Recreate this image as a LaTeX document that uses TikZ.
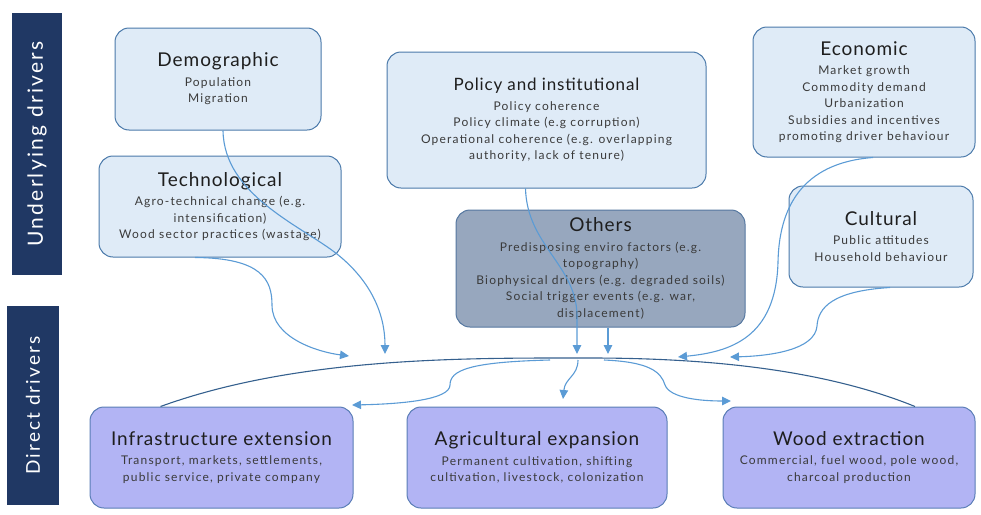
\documentclass[tikz,border=0pt]{standalone}
\usepackage{fontspec}
\setmainfont{Lato}
\newfontfamily\bodyface[LetterSpace=10]{Lato}
\newfontfamily\headface[LetterSpace=5]{Lato}
\newfontfamily\barface[LetterSpace=11]{Lato}
\usetikzlibrary{arrows.meta}

\definecolor{barnavy}{HTML}{203864}
\definecolor{upfill}{HTML}{DFEBF7}
\definecolor{upline}{HTML}{4A79AA}
\definecolor{othfill}{HTML}{97A7BE}
\definecolor{othline}{HTML}{5577A0}
\definecolor{dirfill}{HTML}{B2B4F4}
\definecolor{dirline}{HTML}{5A7DB6}
\definecolor{flow}{HTML}{5B9BD5}
\definecolor{arcline}{HTML}{35608E}
\definecolor{titletext}{HTML}{1E1E1E}
\definecolor{bodytext}{HTML}{3A3A3A}

% heading line of a driver box; optional argument is the type size
\newcommand\boxhead[2][19]{{\fontsize{#1}{22}\selectfont\headface\color{titletext}#2}\\[3pt]}

\tikzset{
  bar/.style={fill=barnavy, rotate=90, text=white, inner sep=0pt,
    font=\fontsize{21}{24}\selectfont\barface},
  drvbox/.style={rounded corners=14pt, line width=1pt, align=center, inner sep=0pt,
    font=\fontsize{12}{16.5}\selectfont\bodyface\color{bodytext}},
  under/.style={drvbox, draw=upline, fill=upfill},
  other/.style={drvbox, draw=othline, fill=othfill},
  direct/.style={drvbox, draw=dirline, fill=dirfill},
  flowline/.style={draw=flow, line width=1.1pt, -{Triangle[length=9pt,width=8.5pt]}},
  arcstyle/.style={draw=arcline, line width=1.1pt}
}

\begin{document}
\begin{tikzpicture}[x=1pt, y=-1pt]
\useasboundingbox (0,0) rectangle (981,514);

% side bars
\node[bar, minimum width=262, minimum height=50] (ubar) at (37,144) {Underlying drivers};
\node[bar, minimum width=199, minimum height=52, font=\fontsize{19}{22}\selectfont\barface]
  (dbar) at (33,405.5) {Direct drivers};

% underlying drivers
\node[under, minimum width=206, minimum height=102] (demo) at (218,79)
  {\boxhead{Demographic}Population\\Migration};
\node[under, minimum width=242, minimum height=101] (tech) at (220,206.5)
  {\boxhead{Technological}Agro-technical change (e.g.\\intensification)\\Wood sector practices (wastage)};
\node[under, minimum width=319, minimum height=136] (policy) at (546.5,120)
  {\boxhead[17]{Policy and institutional}Policy coherence\\Policy climate (e.g corruption)\\Operational coherence (e.g. overlapping\\authority, lack of tenure)};
\node[other, minimum width=289, minimum height=117] (others) at (600.5,268.5)
  {\boxhead{Others}Predisposing enviro factors (e.g.\\topography)\\Biophysical drivers (e.g. degraded soils)\\Social trigger events (e.g. war,\\displacement)};
\node[under, minimum width=222, minimum height=130] (econ) at (864,92)
  {\boxhead{Economic}Market growth\\Commodity demand\\Urbanization\\Subsidies and incentives\\promoting driver behaviour};
\node[under, minimum width=184, minimum height=101] (cult) at (881,236.5)
  {\boxhead{Cultural}Public attitudes\\Household behaviour};

% direct drivers
\node[direct, minimum width=263, minimum height=101] (infra) at (221.5,457.5)
  {\boxhead{Infrastructure extension}Transport, markets, settlements,\\public service, private company};
\node[direct, minimum width=260, minimum height=101] (agri) at (537,457.5)
  {\boxhead{Agricultural expansion}Permanent cultivation, shifting\\cultivation, livestock, colonization};
\node[direct, minimum width=252, minimum height=101] (wood) at (849,457.5)
  {\boxhead{Wood extraction}Commercial, fuel wood, pole wood,\\charcoal production};

% end points of the flows
\coordinate (demoEnd) at (385,354);
\coordinate (techEnd) at (349,356);
\coordinate (policyEnd) at (577,354);
\coordinate (othersEnd) at (608,354);
\coordinate (econEnd) at (678,357);
\coordinate (cultEnd) at (730,357);
\coordinate (hubL) at (550,360);
\coordinate (hubM) at (578,360);
\coordinate (hubR) at (604,360);
\coordinate (infraIn) at (352,405);
\coordinate (agriIn) at (563,399);
\coordinate (woodIn) at (731,401);

% arc joining the direct drivers
\draw[arcstyle] ([xshift=-61pt]infra.north) .. controls (300,356) and (470,358) .. (590,358)
  .. controls (720,358) and (830,372) .. ([xshift=66pt]wood.north);

% underlying drivers feeding in
\draw[flowline] ([xshift=5pt]demo.south) .. controls (224,195) and (300,225) .. (337,254)
  .. controls (372,282) and (385,315) .. (demoEnd);
\draw[flowline] ([xshift=-25pt]tech.south) .. controls (262,258) and (272,280) .. (272,305)
  .. controls (272,338) and (318,352) .. (techEnd);
\draw[flowline] ([xshift=-21pt]policy.south) .. controls (527,245) and (576,265) .. (577,315)
  -- (policyEnd);
\draw[flowline] ([xshift=7.5pt]others.south) -- (othersEnd);
\draw[flowline] ([xshift=9pt]econ.south) .. controls (800,163) and (779,210) .. (778,262)
  .. controls (776,338) and (730,352) .. (econEnd);
\draw[flowline] ([xshift=9pt]cult.south) .. controls (832,291) and (818,308) .. (817,326)
  .. controls (815,350) and (770,356) .. (cultEnd);

% flows out to the direct drivers
\draw[flowline] (hubL) .. controls (470,362) and (450,370) .. (450,385)
  .. controls (450,400) and (400,404) .. (infraIn);
\draw[flowline] (hubM) .. controls (578,376) and (565,378) .. (agriIn);
\draw[flowline] (hubR) .. controls (650,362) and (661,372) .. (665,385)
  .. controls (670,398) and (700,401) .. (woodIn);
\end{tikzpicture}
\end{document}
